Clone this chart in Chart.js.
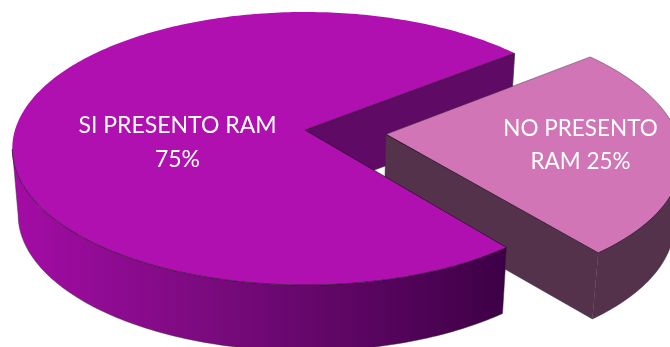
<!DOCTYPE html>
<html>
<head>
<meta charset="utf-8">
<title>RAM</title>
<style>
  html, body { margin: 0; padding: 0; background: #fff; overflow: hidden; }
  canvas { display: block; }
</style>
<script src="https://cdn.jsdelivr.net/npm/chart.js@4"></script>
</head>
<body>
<canvas id="pie" width="670" height="347"></canvas>
<script>
// Share of cases per category
const categories = ['SI PRESENTO RAM', 'NO PRESENTO RAM'];
const shares = [75, 25];
const sliceLabels = [['SI PRESENTO RAM', '75%'], ['NO PRESENTO', 'RAM 25%']];
const topColors = ['#b010b0', '#d175b7'];

// Perspective camera for the tilted pie: screen origin of the centre,
// horizontal and vertical semi-axes, and the foreshortening factor.
const view = { x0: 305, y0: 130, a: 290, b: 134, p: 0.1356, depth: 66, shrink: 0.98 };

function project(u, v) {
  const w = 1 - view.p * v;
  return { x: view.x0 + view.a * u / w, y: view.y0 + view.b * v / w };
}
function lower(pt) {
  return { x: view.x0 + (pt.x - view.x0) * view.shrink, y: pt.y + view.depth };
}

const pie3d = {
  id: 'pie3d',
  beforeDatasetsDraw(chart, args, opts) {
    const ctx = chart.ctx;
    const arcs = chart.getDatasetMeta(0).data;

    // Outline of one slice rim between two angles, relative to its shifted centre
    const rim = (cu, cv, t0, t1) => {
      const pts = [];
      const n = Math.max(2, Math.ceil(Math.abs(t1 - t0) * 60));
      for (let i = 0; i <= n; i++) {
        const t = t0 + (t1 - t0) * i / n;
        pts.push(project(cu + Math.cos(t), cv + Math.sin(t)));
      }
      return pts;
    };
    const trace = (pts, close) => {
      ctx.beginPath();
      pts.forEach((q, i) => i ? ctx.lineTo(q.x, q.y) : ctx.moveTo(q.x, q.y));
      if (close) ctx.closePath();
    };
    const fillOnly = (pts, fill) => {
      trace(pts, true);
      ctx.fillStyle = fill;
      ctx.fill();
    };
    const line = (pts, color) => {
      trace(pts, false);
      ctx.lineJoin = 'round';
      ctx.lineWidth = opts.edgeWidth;
      ctx.strokeStyle = color;
      ctx.stroke();
    };
    // Extruded face below a run of top-face points, outlined softly along its foot
    const wall = (pts, fill) => {
      const foot = pts.map(lower);
      fillOnly(pts.concat(foot.slice().reverse()), fill);
      line(foot, opts.softEdge);
      line([pts[pts.length - 1], foot[foot.length - 1]], opts.softEdge);
    };

    const parts = arcs.map((arc, i) => {
      const mid = (arc.startAngle + arc.endAngle) / 2;
      const cu = opts.explode[i] * Math.cos(mid);
      const cv = opts.explode[i] * Math.sin(mid);
      // Normalise so the slice runs through increasing angles from a known turn
      const turn = arc.startAngle > Math.PI * 1.5 ? Math.PI * 2 : 0;
      const start = arc.startAngle - turn, end = arc.endAngle - turn;
      return { start, end, cu, cv, centre: project(cu, cv), edge: rim(cu, cv, start, end) };
    });
    const [big, small] = parts;

    // Cut face of the large slice seen through the gap
    const farRim = project(big.cu + Math.cos(big.end), big.cv + Math.sin(big.end));
    wall([big.centre, farRim], opts.cutColor);
    line([farRim, lower(farRim)], opts.softEdge);

    // Detached slice: cut face, outer wall, then its top
    const nearRim = project(small.cu + Math.cos(small.end), small.cv + Math.sin(small.end));
    wall([small.centre, nearRim], opts.smallWall);
    line([small.centre, lower(small.centre)], opts.softEdge);
    wall(rim(small.cu, small.cv, small.end, 0), opts.smallWall);
    fillOnly([small.centre].concat(small.edge), topColors[1]);
    line(small.edge, opts.softEdge);
    line([small.edge[0], small.centre, small.edge[small.edge.length - 1]], opts.softEdge);
    line([small.centre, nearRim], opts.edgeColor);
    line(rim(small.cu, small.cv, 0, small.end), opts.edgeColor);

    // Large slice: shaded outer wall up to the left silhouette, then its top
    const shade = ctx.createLinearGradient(opts.shadeFrom, 0, opts.shadeTo, 0);
    opts.shadeStops.forEach(([at, color]) => shade.addColorStop(at, color));
    const bigWall = rim(big.cu, big.cv, big.start, Math.PI * 0.955);
    wall(bigWall, shade);
    line([big.edge[0], lower(big.edge[0])], opts.softEdge);
    fillOnly([big.centre].concat(big.edge), topColors[0]);
    line(bigWall, opts.edgeColor);
    line([big.edge[0], big.centre, big.edge[big.edge.length - 1]], opts.edgeColor);

    // Slice captions
    ctx.fillStyle = '#ffffff';
    ctx.textAlign = 'center';
    ctx.textBaseline = 'alphabetic';
    sliceLabels.forEach((lines, i) => {
      ctx.font = opts.fonts[i];
      lines.forEach((text, k) => {
        ctx.fillText(text, opts.captions[i].x, opts.captions[i].y + k * opts.captionStep[i]);
      });
    });
    return false;
  }
};

new Chart(document.getElementById('pie'), {
  type: 'pie',
  data: {
    labels: categories,
    datasets: [{ data: shares, backgroundColor: topColors, borderWidth: 0 }]
  },
  options: {
    responsive: false,
    animation: false,
    rotation: 141.6,
    layout: { padding: 0 },
    events: [],
    plugins: {
      legend: { display: false },
      tooltip: { enabled: false },
      pie3d: {
        explode: [0, 0.28],
        edgeWidth: 0.8,
        edgeColor: 'rgba(30,10,30,0.85)',
        softEdge: 'rgba(60,45,60,0.6)',
        cutColor: '#5f0a64',
        smallWall: '#55324b',
        shadeFrom: 12,
        shadeTo: 505,
        shadeStops: [[0, '#a40ca6'], [0.42, '#780a7c'], [1, '#3d0046']],
        fonts: ['23px Lato', '22.5px Lato'],
        captions: [{ x: 177.5, y: 133 }, { x: 580.5, y: 136 }],
        captionStep: [34, 33]
      }
    }
  },
  plugins: [pie3d]
});
</script>
</body>
</html>
